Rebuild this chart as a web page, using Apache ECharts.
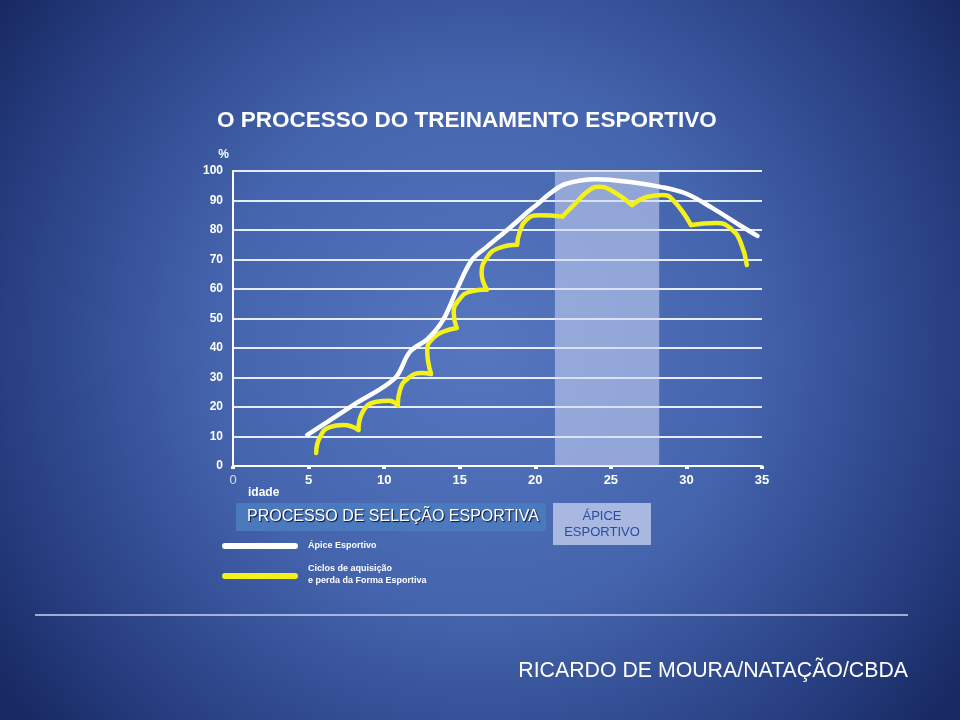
<!DOCTYPE html>
<html><head><meta charset="utf-8">
<script src="https://cdn.jsdelivr.net/npm/echarts@6/dist/echarts.min.js"></script>
<style>html,body{margin:0;padding:0;background:#1b2c68}#c{width:960px;height:720px}</style>
</head><body><div id="c"></div>
<script>
// ---- data ----
const titleText = 'O PROCESSO DO TREINAMENTO ESPORTIVO';
const xTickStep = 5;   // idade
const yTickStep = 10;  // %
const xRange = [0, 35];
const yRange = [0, 100];
const peakZone = [21.3, 28.2];
const apiceName = 'Ápice Esportivo';
const ciclosName = 'Ciclos de aquisição\ne perda da Forma Esportiva';

// white curve: Ápice Esportivo [idade, %]
const apiceLine = [
  [4.9,10.5],[8,20.8],[10.7,29.7],[11.7,38.7],[12.9,43.2],[13.9,49.5],[14.9,60.8],
  [15.8,69.8],[16.8,74.3],[18.3,80.7],[19.6,86.5],[20.2,89],[21,92.5],[22,95.6],
  [24,97.2],[26.4,96.2],[28.2,94.7],[30,92.3],[31.7,87.5],[33.5,81.7],[34.7,78]
];
// yellow curve: cycles of acquisition / loss of form
const cycle1 = [[5.5,4.4],[5.75,9.8],[6.4,13.2],[7.3,13.9],[8.3,12.2]];
const cycle2 = [[8.3,12.2],[8.55,18],[9.5,21.8],[10.3,22.1],[10.9,20.5]];
const cycle3 = [[10.9,20.5],[11.05,25.8],[11.6,29.8],[12.5,31.5],[13.1,31.2]];
const cycle4 = [[13.1,31.2],[12.85,39.3],[13.25,43.4],[13.9,45.5],[14.8,46.8]];
const cycle5 = [[14.8,46.8],[14.6,52],[14.95,56.3],[15.7,59.1],[16.8,59.8]];
const cycle6 = [[16.8,59.8],[16.45,65.4],[16.85,71],[17.6,73.9],[18.8,75]];
const cycle7 = [[18.8,75],[18.95,79],[19.4,83.4],[20.3,85],[21.8,84.6]];
const cycle8 = [[21.8,84.6],[22.7,89.3],[23.6,93.6],[24.3,94.7],[25.1,93.2],[26.4,88.5]];
const cycle9 = [[26.4,88.5],[27.4,91.2],[28.4,91.9],[29.1,90.2],[30.3,81.7]];
const cycle10 = [[30.3,81.7],[32,82.4],[33,80.2],[33.6,75.6],[34.0,68.1]];
const cycles = [cycle1,cycle2,cycle3,cycle4,cycle5,cycle6,cycle7,cycle8,cycle9,cycle10];

// ---- chart ----
const chart = echarts.init(document.getElementById('c'));
const FONT = '"Liberation Sans", Arial, sans-serif';
const YELLOW = '#f4f01c';

const series = [];
series.push({
  type: 'line', data: [], silent: true, z: 1,
  markArea: {
    silent: true,
    itemStyle: { color: 'rgba(205,215,245,0.55)' },
    data: [[{ xAxis: peakZone[0], yAxis: yRange[0] }, { xAxis: peakZone[1], yAxis: yRange[1] + 0.6 }]]
  }
});
cycles.forEach((c, i) => {
  series.push({
    name: ciclosName, type: 'line', data: c, smooth: 0.5, showSymbol: false, z: 3,
    lineStyle: { color: YELLOW, width: 4.5, cap: 'round', join: 'round' }
  });
});
series.push({
  name: apiceName, type: 'line', data: apiceLine, smooth: 0.35, showSymbol: false, z: 4,
  lineStyle: { color: '#ffffff', width: 4.5, cap: 'round', join: 'round' }
});

chart.setOption({
  backgroundColor: {
    type: 'radial', x: 0.5, y: 0.48, r: 0.82,
    colorStops: [
      { offset: 0, color: '#5676bf' },
      { offset: 0.45, color: '#4464ad' },
      { offset: 0.8, color: '#283f82' },
      { offset: 1, color: '#172962' }
    ]
  },
  animation: false,
  textStyle: { fontFamily: FONT },
  title: {
    text: titleText, left: 212, top: 104,
    textStyle: { color: '#ffffff', fontSize: 22.5, fontWeight: 'bold', fontFamily: FONT }
  },
  grid: { left: 233, right: 198, top: 171, bottom: 254 },
  xAxis: {
    type: 'value', min: xRange[0], max: xRange[1], interval: xTickStep,
    axisLine: { show: true, lineStyle: { color: '#ffffff', width: 2 } },
    axisTick: { show: true, length: 3, lineStyle: { color: '#ffffff', width: 4 } },
    splitLine: { show: false },
    axisLabel: {
      margin: 8,
      formatter: v => v === 0 ? '{z|0}' : '{b|' + v + '}',
      rich: {
        z: { color: '#d8def0', fontSize: 13, fontWeight: 'normal', fontFamily: FONT },
        b: { color: '#ffffff', fontSize: 13, fontWeight: 'bold', fontFamily: FONT }
      }
    }
  },
  yAxis: {
    type: 'value', min: yRange[0], max: yRange[1], interval: yTickStep,
    name: '%', nameLocation: 'end', nameGap: 10,
    nameTextStyle: { color: '#ffffff', fontSize: 12, fontWeight: 'bold', align: 'right', padding: [0, 4, 0, 0] },
    axisLine: { show: true, lineStyle: { color: '#ffffff', width: 2 } },
    axisTick: { show: false },
    splitLine: { show: true, lineStyle: { color: '#e6ecf8', width: 2 } },
    axisLabel: { color: '#ffffff', fontSize: 12, fontWeight: 'bold', margin: 10 }
  },
  series: series,
  graphic: [
    { type: 'text', left: 248, top: 487, style: { text: 'idade', fill: '#ffffff', font: 'bold 12px ' + FONT } },
    { type: 'rect', shape: { x: 236, y: 503, width: 310, height: 28 }, style: { fill: '#4a79be' } },
    { type: 'text', x: 247, y: 517, style: {
        text: 'PROCESSO DE SELEÇÃO ESPORTIVA', fill: '#ffffff', font: '16px ' + FONT,
        verticalAlign: 'middle', textShadowColor: 'rgba(0,0,30,0.9)', textShadowOffsetX: 1, textShadowOffsetY: 1, textShadowBlur: 1 } },
    { type: 'rect', shape: { x: 553, y: 503, width: 98, height: 42 }, style: { fill: '#a9b8e0' } },
    { type: 'text', x: 602, y: 524, style: {
        text: 'ÁPICE\nESPORTIVO', fill: '#2b4b9c', font: '13px ' + FONT, lineHeight: 16,
        align: 'center', verticalAlign: 'middle' } },
    { type: 'rect', shape: { x: 222, y: 543, width: 76, height: 6, r: 3 }, style: { fill: '#ffffff' } },
    { type: 'text', x: 308, y: 546, style: { text: apiceName, fill: '#ffffff', font: 'bold 9px ' + FONT, verticalAlign: 'middle' } },
    { type: 'rect', shape: { x: 222, y: 573, width: 76, height: 6, r: 3 }, style: { fill: YELLOW } },
    { type: 'text', x: 308, y: 575, style: { text: ciclosName, fill: '#ffffff', font: 'bold 9px ' + FONT, lineHeight: 12, verticalAlign: 'middle' } },
    { type: 'line', shape: { x1: 35, y1: 615, x2: 908, y2: 615 }, style: { stroke: '#c9d4ef', lineWidth: 1.5 } },
    { type: 'text', x: 908, y: 671, style: { text: 'RICARDO DE MOURA/NATAÇÃO/CBDA', fill: '#ffffff', font: '21.3px ' + FONT, align: 'right', verticalAlign: 'middle' } }
  ]
});
</script>
</body></html>
